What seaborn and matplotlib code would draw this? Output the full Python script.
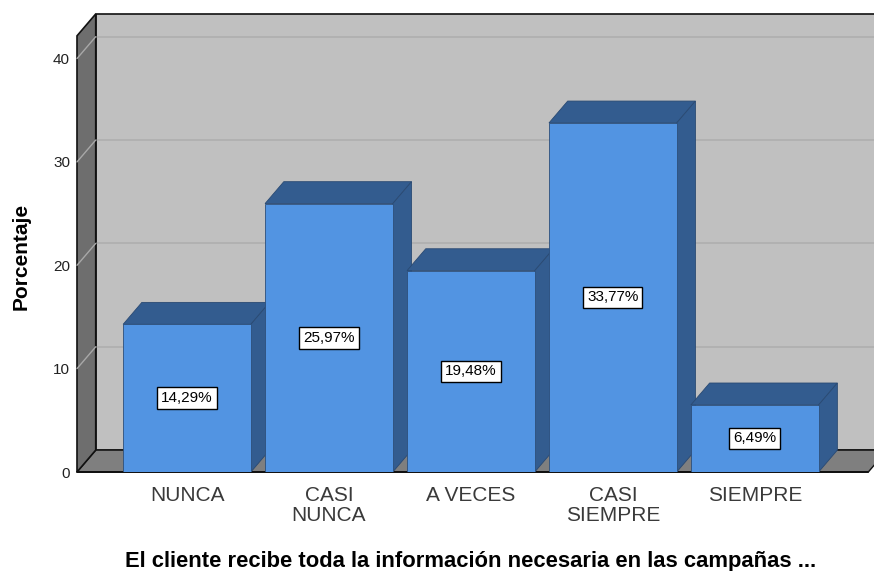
import matplotlib
matplotlib.use("Agg")
import matplotlib.pyplot as plt
from matplotlib.patches import Polygon
import pandas as pd
import seaborn as sns

categorias = ["NUNCA", "CASI\nNUNCA", "A VECES", "CASI\nSIEMPRE", "SIEMPRE"]
porcentajes = [14.29, 25.97, 19.48, 33.77, 6.49]
etiquetas = ["14,29%", "25,97%", "19,48%", "33,77%", "6,49%"]
ticks_y = [0, 10, 20, 30, 40]

sns.set_theme(style="white")
plt.rcParams["font.family"] = ["Liberation Sans", "DejaVu Sans"]

df = pd.DataFrame({"cat": categorias, "pct": porcentajes})

fig = plt.figure(figsize=(8.74, 5.71), dpi=100)
W, H = 874, 571
# axes spans the plotting frame (pixels 77..874 horizontally, 10..472 vertically)
ax = fig.add_axes([77 / W, 1 - 472 / H, (874 - 77) / W, (472 - 10) / H])

x0, x1 = -0.775, 4.84
ytop = 42.2
dx, dy = 0.132, 2.12   # depth offset of the 3D box

wall_back = "#c0c0c0"
wall_left = "#6e6e6e"
floor_c = "#7f7f7f"
front_c = "#5294e2"
dark_c = "#335c8f"

sns.barplot(data=df, x="cat", y="pct", ax=ax, color=front_c, saturation=1, width=0.9,
            edgecolor="#2d4f7a", linewidth=0.6)
bars = list(ax.containers[0])
ax.set_xlim(x0, x1)
ax.set_ylim(0, 44.7)

# back wall
ax.add_patch(Polygon([(x0 + dx, dy), (x1 + 0.2, dy), (x1 + 0.2, ytop + dy), (x0 + dx, ytop + dy)],
                     closed=True, facecolor=wall_back, edgecolor="#111111", lw=1.2, zorder=0, clip_on=False))
# floor
ax.add_patch(Polygon([(x0, 0), (4.8, 0), (4.8 + dx, dy), (x0 + dx, dy)],
                     closed=True, facecolor=floor_c, edgecolor="#111111", lw=1.0, zorder=0.5, clip_on=False))
# left wall
ax.add_patch(Polygon([(x0, 0), (x0, ytop), (x0 + dx, ytop + dy), (x0 + dx, dy)],
                     closed=True, facecolor=wall_left, edgecolor="#111111", lw=1.2, zorder=0.6, clip_on=False))
# gridlines on back wall and across left wall
for v in ticks_y[1:]:
    ax.plot([x0 + dx, x1 + 0.2], [v + dy, v + dy], color="#aeaeae", lw=1.2, zorder=0.4, clip_on=False)
    ax.plot([x0, x0 + dx], [v, v + dy], color="#a8a8a8", lw=1.0, zorder=0.7, clip_on=False)
ax.plot([x0, 4.8], [0, 0], color="#111111", lw=1.4, zorder=0.8, clip_on=False)

for i, (bar, lab) in enumerate(zip(bars, etiquetas)):
    bx, bw, bh = bar.get_x(), bar.get_width(), bar.get_height()
    z = 2 + i * 3
    top = Polygon([(bx, bh), (bx + bw, bh), (bx + bw + dx, bh + dy), (bx + dx, bh + dy)],
                  closed=True, facecolor=dark_c, edgecolor="#2a4a73", lw=0.6, zorder=z)
    side = Polygon([(bx + bw, 0), (bx + bw, bh), (bx + bw + dx, bh + dy), (bx + bw + dx, dy)],
                   closed=True, facecolor=dark_c, edgecolor="#2a4a73", lw=0.6, zorder=z)
    ax.add_patch(top)
    ax.add_patch(side)
    bar.set_zorder(z + 1)
    ax.text(bx + bw / 2, bh / 2, lab, ha="center", va="center", fontsize=11, color="black",
            zorder=z + 2,
            bbox=dict(boxstyle="square,pad=0.25", facecolor="white", edgecolor="black", lw=1.0))

for s in ax.spines.values():
    s.set_visible(False)
ax.set_yticks(ticks_y)
ax.set_yticklabels([str(t) for t in ticks_y], fontsize=11, color="#222222")
ax.tick_params(axis="y", length=0, pad=5)
ax.tick_params(axis="x", length=0, pad=10)
ax.set_xticks(range(len(categorias)))
ax.set_xticklabels(categorias, fontsize=15, color="#3a3a3a", linespacing=1.1)
for t in ax.get_xticklabels():
    t.set_va("top")
ax.set_xlabel("")
ax.set_ylabel("")
fig.text(21 / W, 1 - 256 / H, "Porcentaje", rotation=90, ha="center", va="center",
         fontsize=15, fontweight="bold", color="black")
fig.text(471 / W, 1 - 562 / H, "El cliente recibe toda la información necesaria en las campañas ...",
         ha="center", va="center", fontsize=15.8, fontweight="bold", color="black")

fig.savefig("out.png", dpi=100)
